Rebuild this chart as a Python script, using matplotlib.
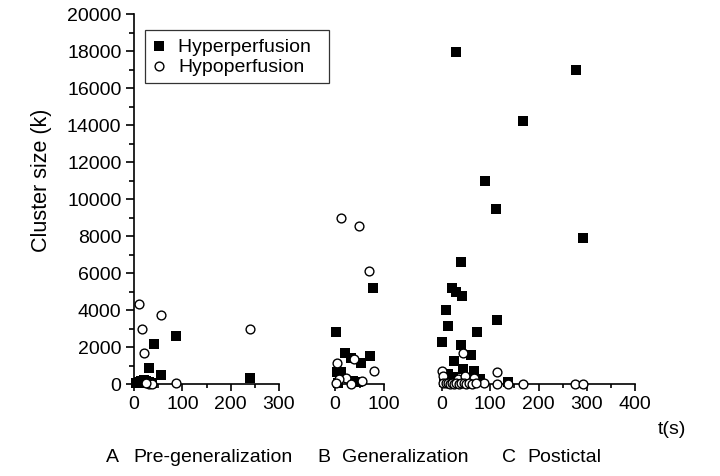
import numpy as np
import matplotlib
matplotlib.use("Agg")
import matplotlib.pyplot as plt

plt.rcParams['font.family'] = ['Liberation Sans', 'DejaVu Sans']

# A: pre-generalization
a_hyper_t = [86, 42, 30, 56, 240, 10, 15, 20, 25, 30, 38, 12, 5]
a_hyper_k = [2600, 2150, 870, 500, 300, 100, 150, 200, 150, 100, 50, 50, 40]
a_hypo_t = [10, 55, 17, 20, 240, 86, 32, 37, 25]
a_hypo_k = [4300, 3730, 2950, 1680, 2950, 40, 0, 20, 50]

# B: generalization
b_hyper_t = [78, 3, 20, 33, 53, 71, 5, 13, 37, 47, 6]
b_hyper_k = [5200, 2830, 1700, 1400, 1130, 1530, 660, 630, 180, 90, 60]
b_hypo_t = [12, 49, 70, 5, 39, 80, 22, 8, 2, 33, 56]
b_hypo_k = [9000, 8550, 6100, 1120, 1330, 690, 320, 270, 40, 0, 150]

# C: postictal
c_hyper_t = [30, 277, 167, 89, 112, 292, 39, 21, 30, 41, 8, 113, 13, 73, 1,
             39, 61, 24, 44, 66, 13, 23, 79, 137, 4]
c_hyper_k = [17950, 16980, 14200, 11000, 9450, 7900, 6570, 5200, 4950, 4740,
             4000, 3460, 3150, 2830, 2290, 2120, 1570, 1230, 810, 720, 540,
             360, 270, 90, 90]
c_hypo_t = [44, 113, 1, 3, 34, 48, 67, 88, 113, 137, 167, 276, 293,
            3, 8, 12, 16, 20, 25, 30, 35, 40, 45, 50, 55, 62, 70]
c_hypo_k = [1690, 630, 720, 450, 270, 410, 320, 40, 0, 0, 0, 0, 0,
            60, 30, 80, 20, 50, 10, 40, 20, 60, 30, 10, 40, 20, 30]

panels = [
    (a_hyper_t, a_hyper_k, a_hypo_t, a_hypo_k, 300, [134, 145]),
    (b_hyper_t, b_hyper_k, b_hypo_t, b_hypo_k, 100, [335, 49]),
    (c_hyper_t, c_hyper_k, c_hypo_t, c_hypo_k, 400, [442, 193]),
]

W, H = 720, 477
fig = plt.figure(figsize=(7.2, 4.77), dpi=100)
y0 = 1 - 385 / H
ht = (385 - 15) / H
fs = 14

axes = []
for i, (ht_, hk, ot, ok, xmax, (px, pw)) in enumerate(panels):
    ax = fig.add_axes([px / W, y0, pw / W, ht])
    ax.scatter(ht_, hk, marker='s', s=42, color='black', linewidths=0,
               clip_on=False, zorder=3, label='Hyperperfusion  ')
    ax.scatter(ot, ok, marker='o', s=40, facecolor='white', edgecolor='black',
               linewidths=1.0, clip_on=False, zorder=4, label='Hypoperfusion')
    ax.set_xlim(0, xmax)
    ax.set_ylim(0, 20000)
    ax.set_xticks(np.arange(0, xmax + 1, 100))
    ax.set_xticks(np.arange(50, xmax, 100), minor=True)
    for s in ['top', 'right']:
        ax.spines[s].set_visible(False)
    ax.spines['bottom'].set_linewidth(1.2)
    ax.tick_params(axis='x', which='major', length=5, width=1.2, labelsize=fs, pad=3)
    ax.tick_params(axis='x', which='minor', length=3, width=1.2)
    if i == 0:
        ax.spines['left'].set_linewidth(1.2)
        ax.set_yticks(np.arange(0, 20001, 2000))
        ax.set_yticks(np.arange(1000, 20000, 2000), minor=True)
        ax.tick_params(axis='y', which='major', length=6, width=1.2, labelsize=fs, pad=3)
        ax.tick_params(axis='y', which='minor', length=3.5, width=1.2)
    else:
        ax.spines['left'].set_visible(False)
        ax.set_yticks([])
    ax.patch.set_visible(False)
    axes.append(ax)

leg = axes[0].legend(loc='upper left', bbox_to_anchor=(145 / W, 1 - 31 / H),
                     bbox_transform=fig.transFigure, frameon=True, fancybox=False,
                     fontsize=14, handletextpad=0.7, borderpad=0.37,
                     labelspacing=0.15, handlelength=0.65, borderaxespad=0)
leg.get_frame().set_edgecolor('black')
leg.get_frame().set_linewidth(0.9)

fig.text(42 / W, 1 - 180 / H, 'Cluster size (k)', fontsize=15.5, rotation=90,
         ha='center', va='center')
fig.text(672 / W, 1 - 430 / H, 't(s)', fontsize=fs, ha='center', va='center')
fig.text(106 / W, 1 - 458 / H, 'A', fontsize=fs, ha='left', va='center')
fig.text(133 / W, 1 - 458 / H, 'Pre-generalization', fontsize=fs, ha='left', va='center')
fig.text(317 / W, 1 - 458 / H, 'B', fontsize=fs, ha='left', va='center')
fig.text(342 / W, 1 - 458 / H, 'Generalization', fontsize=fs, ha='left', va='center')
fig.text(502 / W, 1 - 458 / H, 'C', fontsize=fs, ha='left', va='center')
fig.text(527 / W, 1 - 458 / H, 'Postictal', fontsize=fs, ha='left', va='center')

fig.savefig('out.png', dpi=100)
